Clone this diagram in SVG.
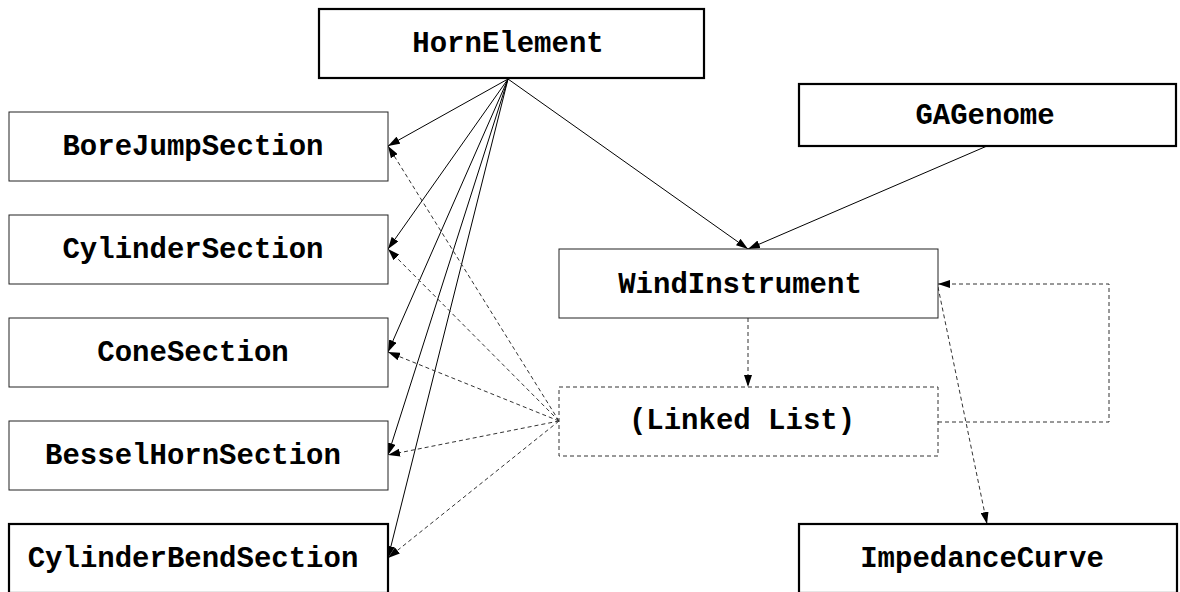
<svg xmlns="http://www.w3.org/2000/svg" width="1180" height="592" viewBox="0 0 1180 592">
<style>
  .box { fill: #fff; stroke: #222; stroke-width: 1; }
  .thick { fill: #fff; stroke: #000; stroke-width: 2.2; }
  .dbox { fill: #fff; stroke: #333; stroke-width: 1; stroke-dasharray: 4 3; }
  .lbl { font-family: "Liberation Mono", "Courier New", monospace; font-weight: bold; font-size: 29px; text-anchor: middle; fill: #000; }
  .solid { fill: none; stroke: #000; stroke-width: 1; marker-end: url(#arr); }
  .dash { fill: none; stroke: #333; stroke-width: 1; stroke-dasharray: 4 3; marker-end: url(#arr); }
</style>
<defs>
  <marker id="arr" viewBox="0 0 12 8" refX="12" refY="4" markerWidth="12" markerHeight="8" markerUnits="userSpaceOnUse" orient="auto">
    <path d="M0,0 L12,4 L0,8 Z" fill="#000"/>
  </marker>
</defs>
<rect width="1180" height="592" fill="#fff"/>

<g id="connectors">
  <line class="solid" x1="508" y1="79" x2="388" y2="146"/>
  <line class="solid" x1="508" y1="79" x2="388" y2="249"/>
  <line class="solid" x1="508" y1="79" x2="388" y2="352"/>
  <line class="solid" x1="508" y1="79" x2="388" y2="455"/>
  <line class="solid" x1="508" y1="79" x2="388" y2="558"/>
  <line class="solid" x1="508" y1="79" x2="748" y2="249"/>
  <line class="solid" x1="987" y1="146" x2="748" y2="249"/>
  <line class="dash" x1="748" y1="318" x2="748" y2="387"/>
  <line class="dash" x1="559" y1="421" x2="388" y2="146"/>
  <line class="dash" x1="559" y1="421" x2="388" y2="249"/>
  <line class="dash" x1="559" y1="421" x2="388" y2="352"/>
  <line class="dash" x1="559" y1="421" x2="388" y2="455"/>
  <line class="dash" x1="559" y1="421" x2="388" y2="558"/>
  <polyline class="dash" points="938,422 1109,422 1109,284 938,284"/>
  <line class="dash" x1="938" y1="287" x2="987" y2="524"/>
</g>

<g id="HornElement">
  <rect class="thick" x="319" y="9" width="385" height="69"/>
  <text class="lbl" x="508" y="52">HornElement</text>
</g>
<g id="GAGenome">
  <rect class="thick" x="799" y="84" width="377" height="62"/>
  <text class="lbl" x="985" y="124">GAGenome</text>
</g>
<g id="BoreJumpSection">
  <rect class="box" x="9" y="112" width="379" height="69"/>
  <text class="lbl" x="193" y="155">BoreJumpSection</text>
</g>
<g id="CylinderSection">
  <rect class="box" x="9" y="215" width="379" height="69"/>
  <text class="lbl" x="193" y="258">CylinderSection</text>
</g>
<g id="ConeSection">
  <rect class="box" x="9" y="318" width="379" height="69"/>
  <text class="lbl" x="193" y="361">ConeSection</text>
</g>
<g id="BesselHornSection">
  <rect class="box" x="9" y="421" width="379" height="69"/>
  <text class="lbl" x="193" y="464">BesselHornSection</text>
</g>
<g id="CylinderBendSection">
  <rect class="thick" x="9" y="524" width="379" height="69"/>
  <text class="lbl" x="193" y="567">CylinderBendSection</text>
</g>
<g id="WindInstrument">
  <rect class="box" x="559" y="249" width="379" height="69"/>
  <text class="lbl" x="740" y="293">WindInstrument</text>
</g>
<g id="LinkedList">
  <rect class="dbox" x="559" y="387" width="379" height="69"/>
  <text class="lbl" x="742" y="429">(Linked List)</text>
</g>
<g id="ImpedanceCurve">
  <rect class="thick" x="799" y="524" width="378" height="69"/>
  <text class="lbl" x="982" y="567">ImpedanceCurve</text>
</g>
</svg>
